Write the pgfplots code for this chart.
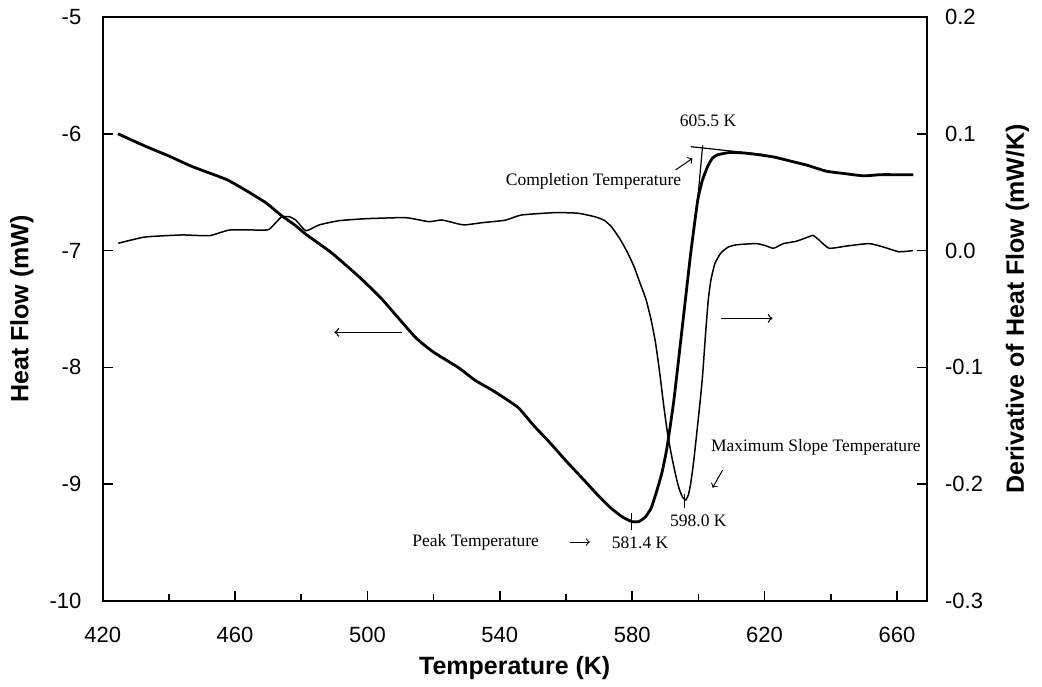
\documentclass[border=0pt]{standalone}
\usepackage{pgfplots}
\pgfplotsset{compat=1.18}
\usepackage{fontspec}
\setmainfont{Liberation Sans}
\newfontfamily\tnr{Liberation Serif}
\begin{document}
\begin{tikzpicture}
\path[use as bounding box] (-51.35pt,-42.5pt) rectangle (469.65pt,300.5pt);
\pgfplotsset{
  every axis/.append style={
    scale only axis, width=412pt, height=292pt,
    xmin=420, xmax=669,
    axis line style={line width=1.1pt},
    tick style={line width=0.8pt, black},
    major tick length=5pt, minor tick length=3.5pt,
    tick align=inside,
    tick label style={font=\fontsize{11}{13}\selectfont},
    label style={font=\bfseries\fontsize{12.5}{15}\selectfont},
  }
}
\begin{axis}[
  ymin=-10, ymax=-5,
  xtick={420,460,...,660}, xticklabels={420,460,500,540,580,620,660},
  minor xtick={440,480,...,640},
  ytick={-10,-9,-8,-7,-6,-5}, yticklabels={-10,-9,-8,-7,-6,-5},
  xtick pos=left, ytick pos=left,
  xticklabel style={anchor=center, yshift=-17pt},
  yticklabel style={anchor=east, inner sep=0pt, xshift=-10.5pt},
  xlabel={Temperature (K)}, ylabel={Heat Flow (mW)},
  xlabel style={at={(axis description cs:0.5,-0.115)}, anchor=center},
  ylabel style={at={(axis description cs:-0.098,0.5)}, anchor=center},
  clip=false,
]
\addplot[black, line width=1.4pt, smooth, tension=0.3] coordinates {
(424.6,-6.00) (433.2,-6.11) (440,-6.19) (447,-6.28) (457.3,-6.39) (463,-6.48)
(469.3,-6.59) (474,-6.70) (478,-6.78) (481.4,-6.86) (489.2,-7.02) (497.3,-7.22)
(504.2,-7.41) (514.4,-7.74) (520,-7.87) (527.4,-8.00) (532.5,-8.11) (538,-8.20)
(545.4,-8.34) (550,-8.49) (555.3,-8.65) (560,-8.80) (565.6,-8.97) (569.5,-9.09)
(573.4,-9.20) (577,-9.28) (579.9,-9.32) (582,-9.32) (584,-9.28) (585.8,-9.20)
(587.5,-9.05) (589,-8.90) (590.5,-8.69) (592.6,-8.28) (595.2,-7.64) (597.7,-7.02)
(599.8,-6.57) (601.2,-6.40) (602.8,-6.28) (604.2,-6.21) (605.8,-6.18) (609.5,-6.16)
(614,-6.165) (618.5,-6.18) (623,-6.20) (628.7,-6.24) (633,-6.27) (638.6,-6.32)
(644,-6.34) (650,-6.36) (655,-6.35) (660,-6.35) (665,-6.35)
};
% tangents
\draw[line width=0.6pt] (axis cs:601.3,-6.10) -- (axis cs:599.6,-6.62);
\draw[line width=0.6pt] (axis cs:597.7,-6.11) -- (axis cs:620.3,-6.18);
% annotations
\begin{scope}[every node/.style={font=\tnr\fontsize{8.75}{10}\selectfont, inner sep=0pt}]
\node at (axis cs:568.3,-6.41) {Completion Temperature};
\draw[->, line width=0.5pt] (axis cs:593.1,-6.31) -- (axis cs:598.2,-6.21);
\node at (axis cs:602.9,-5.89) {605.5 K};
\node at (axis cs:532.7,-9.50) {Peak Temperature};
\draw[->, line width=0.5pt] (axis cs:561.2,-9.495) -- (axis cs:567.2,-9.495);
\node at (axis cs:582.4,-9.50) {581.4 K};
\draw[line width=0.6pt] (axis cs:579.9,-9.25) -- (axis cs:579.9,-9.39);
\node at (axis cs:600.0,-9.31) {598.0 K};
\draw[line width=0.6pt] (axis cs:595.9,-9.08) -- (axis cs:595.9,-9.20);
\node[anchor=west] at (axis cs:603.7,-8.68) {Maximum Slope Temperature};
\draw[->, line width=0.5pt] (axis cs:607.3,-8.88) -- (axis cs:604.3,-9.03);
\end{scope}
\draw[->, line width=0.7pt] (axis cs:510.4,-7.70) -- (axis cs:490.0,-7.70);
\draw[->, line width=0.7pt] (axis cs:606.7,-7.58) -- (axis cs:622.4,-7.58);
\end{axis}
\begin{axis}[
  axis x line=none, axis y line*=right,
  ymin=-0.3, ymax=0.2,
  ytick={-0.3,-0.2,-0.1,0,0.1,0.2}, yticklabels={-0.3,-0.2,-0.1,0.0,0.1,0.2},
  yticklabel style={anchor=west, inner sep=0pt, xshift=9pt},
  ylabel={Derivative of Heat Flow (mW/K)},
  ylabel style={at={(axis description cs:1.11,0.5)}, anchor=center},
]
\addplot[black, line width=0.75pt, smooth, tension=0.3] coordinates {
(424.7,0.0063) (432.2,0.0114) (437.2,0.0125) (444.2,0.0134) (452.3,0.0128)
(458.3,0.0176) (467.3,0.0176) (470.3,0.0182) (473.9,0.0285) (476.4,0.029)
(478.4,0.026) (481.4,0.017) (485.4,0.022) (491.4,0.0256) (499.4,0.0273)
(511.5,0.0282) (518.5,0.0248) (522.5,0.0262) (527.5,0.0228) (529.5,0.022)
(535,0.024) (541.6,0.026) (546.6,0.0305) (556.6,0.0325) (563.6,0.032)
(568.7,0.029) (571.5,0.026) (573.7,0.0205) (576.3,0.010) (578.7,-0.0023)
(580.6,-0.014) (582.4,-0.028) (584.2,-0.042) (585.7,-0.059) (587.0,-0.078)
(588.2,-0.102) (589.5,-0.132) (590.7,-0.157) (592.0,-0.177) (593.2,-0.193)
(594.2,-0.204) (595.2,-0.211) (596.2,-0.2135) (597.0,-0.209) (597.7,-0.199)
(598.6,-0.180) (599.6,-0.154) (600.5,-0.130) (601.3,-0.106) (602.2,-0.070)
(603.0,-0.042) (603.8,-0.025) (605,-0.011) (606.8,-0.002)
(609,0.003) (611.6,0.005) (617.6,0.006) (620.5,0.004) (622.7,0.002)
(625.7,0.006) (629.6,0.008) (633.5,0.012) (634.7,0.013) (636.5,0.009)
(639.5,0.002) (645,0.004) (651.6,0.006) (656,0.003) (660.6,-0.001) (664.8,0.0)
};
\end{axis}
\end{tikzpicture}
\end{document}
